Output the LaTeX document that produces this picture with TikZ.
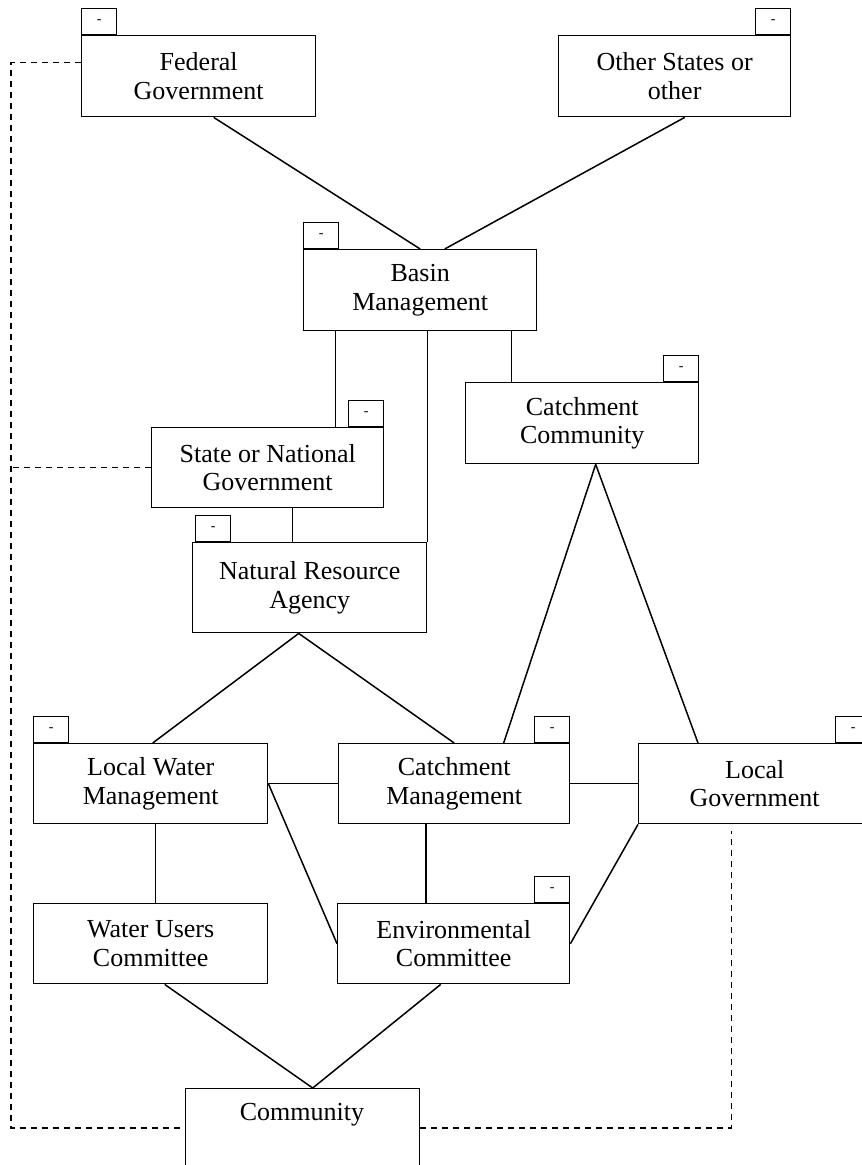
\documentclass[tikz,border=0pt]{standalone}
\usepackage{fontspec}
\setmainfont{Liberation Serif}
\begin{document}
\begin{tikzpicture}[x=1pt,y=1pt,
  box/.style={draw, line width=1.4pt, minimum width=233pt, minimum height=81pt, inner sep=0pt, align=center, anchor=north west, font=\fontsize{26}{28.5}\selectfont},
  tabbox/.style={draw, line width=1.3pt, minimum width=35pt, minimum height=26pt, inner sep=0pt, font=\fontsize{14}{14}\selectfont},
  link/.style={line width=1.5pt},
  thinlink/.style={line width=1.0pt},
  dashline/.style={line width=1.2pt, dash pattern=on 6pt off 5pt}]
\useasboundingbox (0,0) rectangle (862,-1165);
\fill[white] (0,0) rectangle (862,-1165);
\clip (0,0) rectangle (862,-1165);

% boxes
\node[box, minimum width=234pt] (fed) at (81,-35) {Federal\\Government};
\node[tabbox, anchor=south west] (fedtab) at (fed.north west) {-};

\node[box, minimum width=232pt] (other) at (558,-35) {Other States or\\other};
\node[tabbox, anchor=south east] (othertab) at (other.north east) {-};

\node[box] (basin) at (303,-249) {Basin\\Management};
\node[tabbox, anchor=south west] (basintab) at (basin.north west) {-};

\node[box, minimum width=232pt, minimum height=80pt] (state) at (151,-427) {State or National\\Government};
\node[tabbox, anchor=south east] (statetab) at (state.north east) {-};

\node[box, minimum width=234pt, minimum height=90pt] (nra) at (192,-542) {Natural Resource\\Agency};
\node[tabbox, anchor=south west] (nratab) at ([xshift=3pt]nra.north west) {-};

\node[box] (cc) at (465,-382) {Catchment\\Community};
\node[tabbox, anchor=south east] (cctab) at (cc.north east) {-};

\node[box, minimum width=234pt, minimum height=80pt] (lwm) at (33,-743) {Local Water\\Management};
\node[tabbox, anchor=south west] (lwmtab) at (lwm.north west) {-};

\node[box, minimum width=231pt, minimum height=80pt] (cm) at (338,-743) {Catchment\\Management};
\node[tabbox, anchor=south east] (cmtab) at (cm.north east) {-};

\node[box, minimum width=232pt, minimum height=80pt] (lg) at (638,-743) {Local\\Government};
\node[tabbox, anchor=south east] (lgtab) at (lg.north east) {-};

\node[box, minimum width=234pt, minimum height=80pt] (wuc) at (33,-903) {Water Users\\Committee};

\node[box, minimum width=232pt, minimum height=80pt] (env) at (337,-903) {Environmental\\Committee};
\node[tabbox, anchor=south east] (envtab) at (env.north east) {-};

\node[box, minimum width=234pt, minimum height=90pt] (comm) at (185,-1088) {};
\node[font=\fontsize{26}{28.5}\selectfont, inner sep=0pt] (commtext) at (302,-1115) {Community};

% connectors
\draw[link] ([xshift=15pt]fed.south) -- (basin.north);
\draw[link] ([xshift=10pt]other.south) -- ([xshift=24.5pt]basin.north);
\draw[thinlink] ([xshift=32pt]basin.south west) -- ([xshift=32pt]basin.south west |- state.north);
\draw[link] (nra.north east |- basin.south) -- (nra.north east);
\draw[thinlink] ([xshift=46pt]cc.north west |- basin.south) -- ([xshift=46pt]cc.north west);
\draw[thinlink] ([xshift=25pt]state.south) -- ([xshift=25pt]state.south |- nra.north);
\draw[link] ([xshift=-11pt]nra.south) -- ([xshift=2pt]lwm.north);
\draw[link] ([xshift=-11pt]nra.south) -- (cm.north);
\draw[link] ([xshift=13.5pt]cc.south) -- ([xshift=49.5pt]cm.north);
\draw[link] ([xshift=13.5pt]cc.south) -- ([xshift=60pt]lg.north west);
\draw[link] (lwm.east) -- (cm.west);
\draw[link] (lwm.east) -- (env.west);
\draw[link] (cm.east) -- (lg.west);
\draw[thinlink] ([xshift=5pt]lwm.south) -- ([xshift=5pt]wuc.north);
\draw[link] ([xshift=-28pt]cm.south) -- ([xshift=-28pt]cm.south |- env.north);
\draw[link] (lg.south west) -- (env.east);
\draw[link] ([xshift=14pt]wuc.south) -- ([xshift=10pt]comm.north);
\draw[link] ([xshift=-13pt]env.south) -- ([xshift=10pt]comm.north);

% dashed links
\coordinate (leftbot) at (11,-1128);
\draw[dashline] ([yshift=13.5pt]fed.west) -| (leftbot) -- (leftbot -| comm.west);
\draw[dashline] (state.west) -- (state.west -| leftbot);
\draw[dashline] (comm.east |- leftbot) -| ([xshift=-23pt,yshift=-7pt]lg.south);
\end{tikzpicture}
\end{document}
